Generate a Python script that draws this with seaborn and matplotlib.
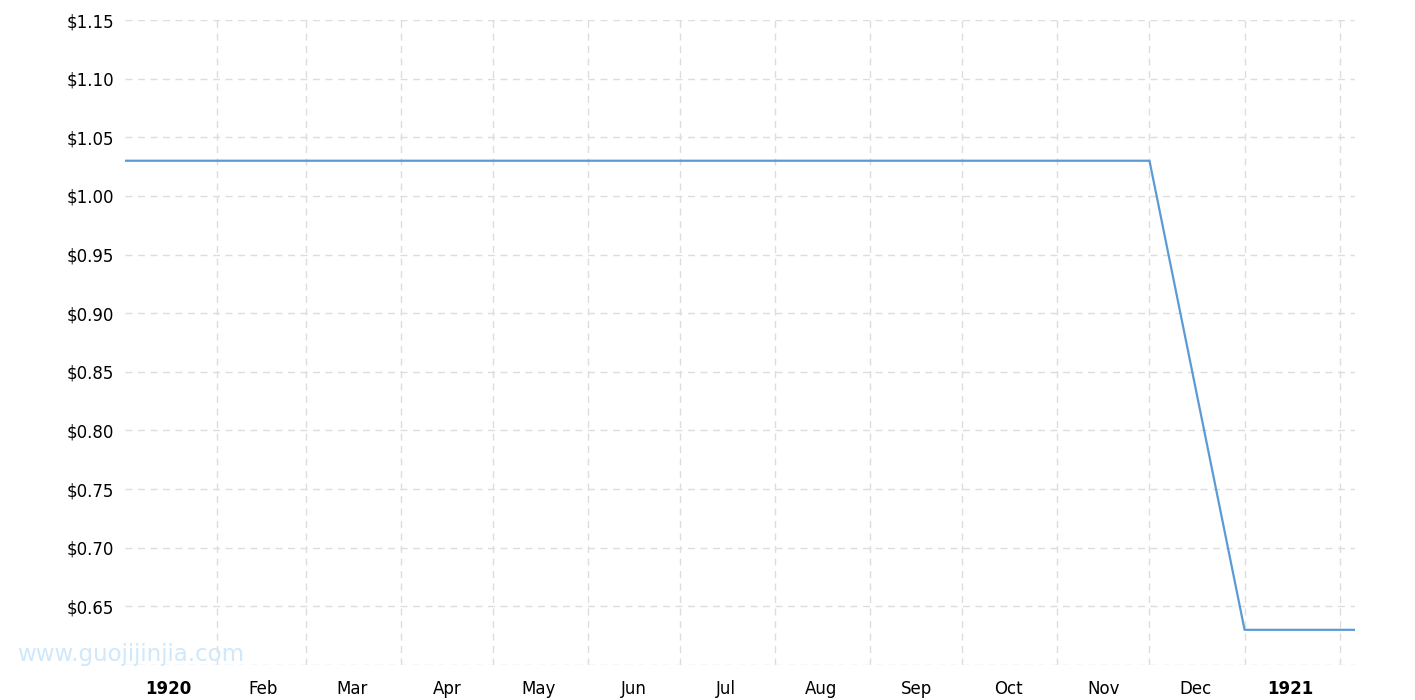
import seaborn as sns
import pandas as pd
import matplotlib.pyplot as plt
from matplotlib.ticker import FuncFormatter

dates = ["1920-01-02", "1920-02-01", "1920-03-01", "1920-04-01", "1920-05-01",
         "1920-06-01", "1920-07-01", "1920-08-01", "1920-09-01", "1920-10-01",
         "1920-11-01", "1920-12-01", "1921-01-01", "1921-02-01", "1921-03-01"]
prices = [1.03, 1.03, 1.03, 1.03, 1.03, 1.03, 1.03, 1.03, 1.03, 1.03,
          1.03, 1.03, 0.63, 0.63, 0.63]
month_labels = ["1920", "Feb", "Mar", "Apr", "May", "Jun", "Jul", "Aug",
                "Sep", "Oct", "Nov", "Dec", "1921"]
y_ticks = [0.60, 0.65, 0.70, 0.75, 0.80, 0.85, 0.90, 0.95, 1.00, 1.05, 1.10, 1.15]


def main():
    sns.set_style("white")
    plt.rcParams['font.family'] = ['DejaVu Sans']

    df = pd.DataFrame({"date": pd.to_datetime(dates), "price": prices})

    fig = plt.figure(figsize=(14.15, 7), dpi=100)
    ax = fig.add_axes([0.0883, 0.05, 0.8693, 0.9214])

    sns.lineplot(data=df, x="date", y="price", ax=ax, color="#5b9bd5", linewidth=1.6)

    ax.set_xlim(pd.Timestamp("1920-01-02"), pd.Timestamp("1921-02-06"))
    ax.set_ylim(0.60, 1.15)

    # gridlines at month starts, labels at mid month
    grid_pos = pd.date_range("1920-02-01", "1921-02-01", freq="MS")
    label_pos = pd.date_range("1920-01-01", "1921-01-01", freq="MS") + pd.Timedelta(days=15)
    ax.set_xticks(grid_pos)
    ax.set_xticklabels([])
    ax.set_xticks(label_pos, minor=True)
    ax.set_xticklabels(month_labels, minor=True, fontsize=12, color="black")
    for lbl in ax.get_xticklabels(minor=True):
        if lbl.get_text() in ("1920", "1921"):
            lbl.set_fontweight("bold")
    ax.tick_params(axis="x", which="both", length=0, pad=11)

    ax.set_yticks(y_ticks)
    ax.yaxis.set_major_formatter(FuncFormatter(lambda v, p: "" if v < 0.62 else f"${v:.2f}"))
    ax.tick_params(axis="y", length=0, labelsize=12, labelcolor="black", pad=8)

    ax.grid(True, which="major", color="#dddddd", linestyle=(0, (5, 4)), linewidth=1)
    ax.set_xlabel("")
    ax.set_ylabel("")
    for s in ax.spines.values():
        s.set_visible(False)

    fig.text(0.012, 0.055, "www.guojijinjia.com", fontsize=16.5, color="#cfe8fb")

    plt.savefig("out.png")
    plt.close()


if __name__ == '__main__':
    main()
